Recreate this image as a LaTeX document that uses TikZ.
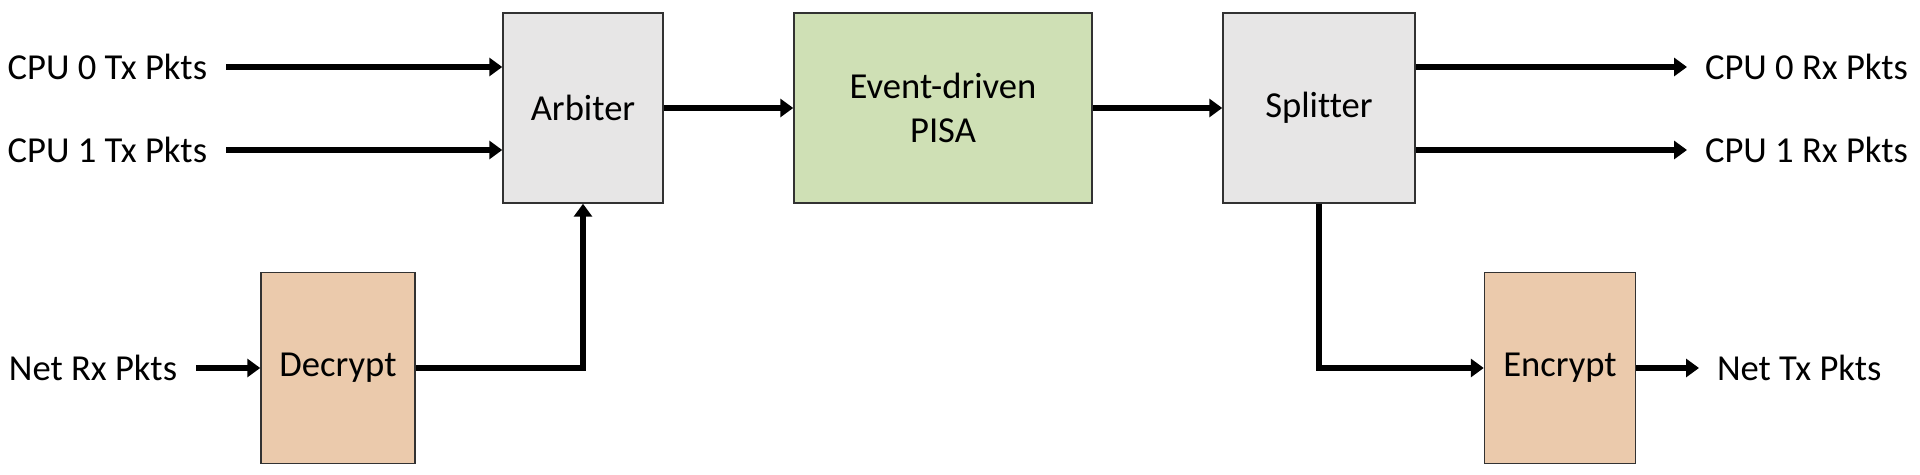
\documentclass[tikz,border=0pt]{standalone}
\usepackage{fontspec}
\setmainfont{Carlito}[Ligatures=NoCommon]
\usetikzlibrary{arrows.meta}
\definecolor{boxgray}{RGB}{231,230,230}
\definecolor{boxgreen}{RGB}{207,224,181}
\definecolor{boxpeach}{RGB}{235,202,172}
\definecolor{edge}{RGB}{50,50,50}
\tikzset{
  blk/.style={draw=edge, line width=0.75pt, minimum height=95pt, inner sep=0pt,
    font=\fontsize{18.3}{21.8}\selectfont, align=center},
  lbl/.style={inner sep=0pt, font=\fontsize{18.3}{21.8}\selectfont},
  arr/.style={line width=2.9pt, -{Triangle[length=6.5pt,width=9pt]}},
}
\begin{document}
\begin{tikzpicture}[x=0.5pt,y=-0.5pt]
\useasboundingbox (0,0) rectangle (1920,475);
\node[blk, fill=boxgray, minimum width=80pt] (arb) at (583,108) {Arbiter};
\node[blk, fill=boxgreen, minimum width=149pt] (pisa) at (943,108) {Event-driven\\PISA};
\node[blk, fill=boxgray, minimum width=96pt] (spl) at (1319,108) {Splitter};
\node[blk, fill=boxpeach, minimum width=77pt, minimum height=95.5pt] (dec) at (338,368) {Decrypt};
\node[blk, fill=boxpeach, minimum width=75.5pt, minimum height=95.5pt] (enc) at (1560,368) {Encrypt};
\node[lbl, anchor=east, outer xsep=9.5pt] (c0tx) at (226,67) {CPU 0 Tx Pkts};
\node[lbl, anchor=east, outer xsep=9.5pt] (c1tx) at (226,150) {CPU 1 Tx Pkts};
\node[lbl, anchor=east, outer xsep=9.5pt] (nrx) at (196,368) {Net Rx Pkts};
\node[lbl, anchor=west, outer xsep=9pt] (c0rx) at (1687,67) {CPU 0 Rx Pkts};
\node[lbl, anchor=west, outer xsep=9pt] (c1rx) at (1687,150) {CPU 1 Rx Pkts};
\node[lbl, anchor=west, outer xsep=9pt] (ntx) at (1699,368) {Net Tx Pkts};
\draw[arr] (c0tx.east) -- (c0tx.east -| arb.west);
\draw[arr] (c1tx.east) -- (c1tx.east -| arb.west);
\draw[arr] (arb.east) -- (pisa.west);
\draw[arr] (pisa.east) -- (spl.west);
\draw[arr] (c0rx.west -| spl.east) -- (c0rx.west);
\draw[arr] (c1rx.west -| spl.east) -- (c1rx.west);
\draw[arr] (nrx.east) -- (dec.west);
\draw[arr] (dec.east) -| (arb.south);
\draw[arr] (spl.south) |- (enc.west);
\draw[arr] (enc.east) -- (ntx.west);
\end{tikzpicture}
\end{document}
